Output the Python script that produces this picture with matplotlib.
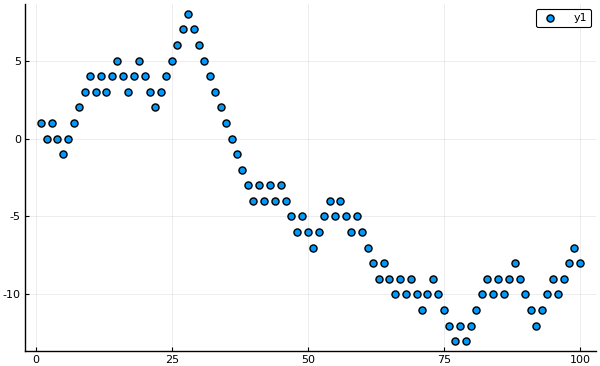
import matplotlib
matplotlib.use("Agg")
import matplotlib.pyplot as plt

x = list(range(1, 101))
y1 = [1, 0, 1, 0, -1, 0, 1, 2, 3, 4,
      3, 4, 3, 4, 5, 4, 3, 4, 5, 4,
      3, 2, 3, 4, 5, 6, 7, 8, 7, 6,
      5, 4, 3, 2, 1, 0, -1, -2, -3, -4,
      -3, -4, -3, -4, -3, -4, -5, -6, -5, -6,
      -7, -6, -5, -4, -5, -4, -5, -6, -5, -6,
      -7, -8, -9, -8, -9, -10, -9, -10, -9, -10,
      -11, -10, -9, -10, -11, -12, -13, -12, -13, -12,
      -11, -10, -9, -10, -9, -10, -9, -8, -9, -10,
      -11, -12, -11, -10, -9, -10, -9, -8, -7, -8]
xticks = [0, 25, 50, 75, 100]
yticks = [-10, -5, 0, 5]

fig = plt.figure(figsize=(6, 3.66), dpi=100)
ax = fig.add_axes([25/600, 1-351/366, 571/600, 347/366])
ax.scatter(x, y1, s=26, c="#009AFA", edgecolors="black", linewidths=1.0, label="y1", zorder=3)

xr = max(x) - min(x)
yr = max(y1) - min(y1)
ax.set_xlim(min(x) - 0.03*xr, max(x) + 0.03*xr)
ax.set_ylim(min(y1) - 0.03*yr, max(y1) + 0.03*yr)
ax.set_xticks(xticks)
ax.set_yticks(yticks)
ax.set_yticklabels([str(t) for t in yticks])
ax.grid(True, color="black", alpha=0.1, linewidth=0.5)
ax.set_axisbelow(True)
for s in ["top", "right"]:
    ax.spines[s].set_visible(False)
for s in ["left", "bottom"]:
    ax.spines[s].set_linewidth(1.0)
ax.tick_params(direction="in", length=3, width=0.8, labelsize=8, colors="black", pad=3)

leg = ax.legend(loc="upper right", fontsize=8, frameon=True, fancybox=True,
                edgecolor="black", borderpad=0.35, handletextpad=1.2,
                handlelength=1.8, borderaxespad=0.45, framealpha=1)
leg.get_frame().set_linewidth(0.8)
leg.get_frame().set_boxstyle("round", pad=0, rounding_size=0.15)

fig.savefig("out.png", dpi=100)
